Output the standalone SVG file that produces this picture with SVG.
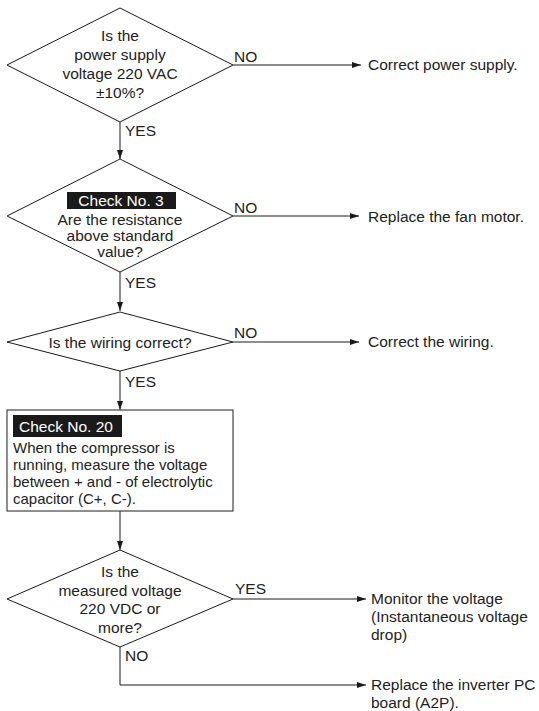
<svg xmlns="http://www.w3.org/2000/svg" width="539" height="711" viewBox="0 0 539 711">
  <style>
    .shape { fill: #ffffff; stroke: #1a1a1a; stroke-width: 1; }
    .box { fill: #ffffff; stroke: #444444; stroke-width: 1.2; }
    .wire { fill: none; stroke: #1a1a1a; stroke-width: 1; }
    .t { font-family: "Liberation Sans", Arial, Helvetica, sans-serif; font-size: 15.5px; fill: #222222; }
    .c { text-anchor: middle; }
    .s { font-size: 15px; }
    .tag { fill: #1a1a1a; }
    .tagt { fill: #ffffff; }
  </style>
  <defs>
    <marker id="arrow" markerUnits="userSpaceOnUse" markerWidth="9" markerHeight="6" refX="9" refY="3" orient="auto">
      <path d="M0,0 L9,3 L0,6 z" fill="#1a1a1a"/>
    </marker>
  </defs>
  <rect width="539" height="711" fill="#ffffff"/>

  <!-- connectors -->
  <g id="connectors">
    <line class="wire" x1="233" y1="65" x2="361" y2="65" marker-end="url(#arrow)"/>
    <line class="wire" x1="120" y1="122" x2="120" y2="159" marker-end="url(#arrow)"/>
    <line class="wire" x1="233" y1="216" x2="359" y2="216" marker-end="url(#arrow)"/>
    <line class="wire" x1="120" y1="272" x2="120" y2="311" marker-end="url(#arrow)"/>
    <line class="wire" x1="233" y1="342" x2="359" y2="342" marker-end="url(#arrow)"/>
    <line class="wire" x1="120" y1="371" x2="120" y2="410" marker-end="url(#arrow)"/>
    <line class="wire" x1="120" y1="511" x2="120" y2="550" marker-end="url(#arrow)"/>
    <line class="wire" x1="233" y1="599" x2="366" y2="599" marker-end="url(#arrow)"/>
    <polyline class="wire" points="120,647 120,685 366,685" marker-end="url(#arrow)"/>
    <text class="t" x="234" y="62">NO</text>
    <text class="t" x="125" y="136">YES</text>
    <text class="t" x="234" y="213">NO</text>
    <text class="t" x="125" y="288">YES</text>
    <text class="t" x="234" y="338">NO</text>
    <text class="t" x="125" y="387">YES</text>
    <text class="t" x="235" y="594">YES</text>
    <text class="t" x="125" y="661">NO</text>
  </g>

  <!-- decision: supply voltage -->
  <g id="q-power">
    <polygon class="shape" points="120,8 233,65 120,122 7,65"/>
    <text class="t c" x="120" y="41">Is the</text>
    <text class="t c" x="120" y="60">power supply</text>
    <text class="t c" x="120" y="79">voltage 220 VAC</text>
    <text class="t c" x="120" y="98">±10%?</text>
  </g>

  <g id="r-power">
    <text class="t" x="368" y="70">Correct power supply.</text>
  </g>

  <!-- decision: fan motor resistance -->
  <g id="q-resistance">
    <polygon class="shape" points="120,159 233,216 120,272 7,216"/>
    <rect class="tag" x="67" y="192" width="109" height="17"/>
    <text class="t c tagt" x="121" y="206">Check No. 3</text>
    <text class="t c" x="120" y="225">Are the resistance</text>
    <text class="t c" x="120" y="241">above standard</text>
    <text class="t c" x="120" y="257">value?</text>
  </g>

  <g id="r-fan">
    <text class="t" x="368" y="222">Replace the fan motor.</text>
  </g>

  <!-- decision: wiring -->
  <g id="q-wiring">
    <polygon class="shape" points="120,312 233,342 120,371 7,342"/>
    <text class="t c" x="120" y="348">Is the wiring correct?</text>
  </g>

  <g id="r-wiring">
    <text class="t" x="368" y="347">Correct the wiring.</text>
  </g>

  <!-- process: capacitor voltage check -->
  <g id="p-measure">
    <rect class="box" x="7" y="410" width="226" height="101"/>
    <rect class="tag" x="13" y="415" width="109" height="22"/>
    <text class="t tagt" x="19" y="432">Check No. 20</text>
    <text class="t s" x="13" y="453">When the compressor is</text>
    <text class="t s" x="13" y="470">running, measure the voltage</text>
    <text class="t s" x="13" y="487">between + and - of electrolytic</text>
    <text class="t s" x="13" y="504">capacitor (C+, C-).</text>
  </g>

  <!-- decision: measured DC voltage -->
  <g id="q-dc">
    <polygon class="shape" points="120,550 233,599 120,647 7,599"/>
    <text class="t c" x="120" y="577">Is the</text>
    <text class="t c" x="120" y="596">measured voltage</text>
    <text class="t c" x="120" y="614">220 VDC or</text>
    <text class="t c" x="120" y="633">more?</text>
  </g>

  <g id="r-monitor">
    <text class="t" x="371" y="604">Monitor the voltage</text>
    <text class="t" x="371" y="622">(Instantaneous voltage</text>
    <text class="t" x="371" y="640">drop)</text>
  </g>

  <g id="r-board">
    <text class="t" x="371" y="690">Replace the inverter PC</text>
    <text class="t" x="371" y="708">board (A2P).</text>
  </g>
</svg>
